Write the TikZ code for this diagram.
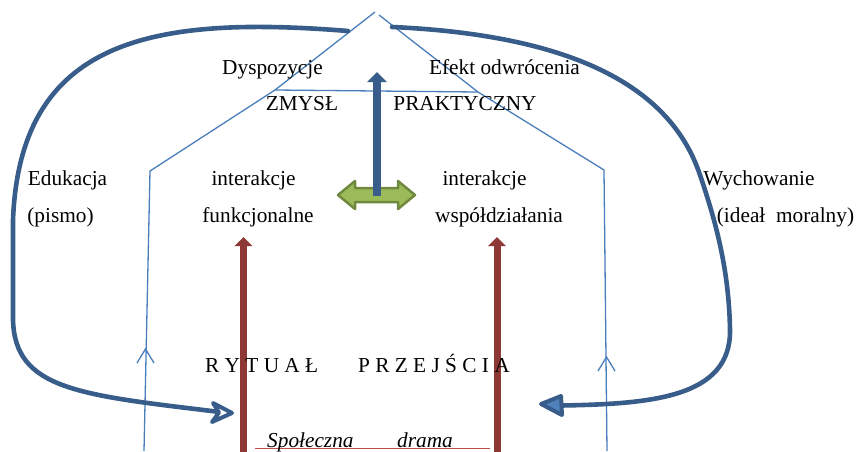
\documentclass[tikz,border=0pt]{standalone}
\usepackage{fontspec}
\setmainfont{Liberation Serif}
\usetikzlibrary{arrows.meta}
\definecolor{thickblue}{RGB}{56,93,138}
\definecolor{thinblue}{RGB}{74,126,187}
\definecolor{arrowfill}{RGB}{79,129,189}
\definecolor{darkred}{RGB}{142,56,54}
\definecolor{lightred}{RGB}{192,80,77}
\definecolor{greenfill}{RGB}{155,187,89}
\definecolor{greenedge}{RGB}{113,137,63}
\tikzset{
  lbl/.style={anchor=base, inner sep=0pt, font=\fontsize{21.3}{25}\selectfont},
  lblw/.style={anchor=base west, inner sep=0pt, font=\fontsize{21.3}{25}\selectfont},
  roof/.style={draw=thinblue, line width=1.3pt, line join=miter},
  bigcurve/.style={draw=thickblue, line width=4.6pt, line cap=round},
  bighead/.style={draw=thickblue, line width=4pt, line join=round},
  redarrow/.style={draw=darkred, line width=7pt, -{Triangle[length=9pt,width=17pt]}},
}
\begin{document}
\begin{tikzpicture}[x=1pt,y=-1pt]
\useasboundingbox (0,0) rectangle (857,451);
% coordinates
\coordinate (apexL) at (375,12);
\coordinate (apexR) at (379,15);
\coordinate (kneeL) at (275,90);
\coordinate (kneeR) at (478,92);
\coordinate (eaveL) at (150,171);
\coordinate (eaveR) at (604,170);
\coordinate (footL) at (144,451);
\coordinate (footR) at (607,451);
% roof and walls
\draw[roof] (apexL) -- (kneeL) -- (eaveL) -- (footL);
\draw[roof] (apexR) -- (kneeR) -- (eaveR) -- (footR);
\draw[roof] (kneeL) -- (kneeR);
% small open arrow marks on the walls
\coordinate (mL) at (145.5,349);
\coordinate (mR) at (606.5,357);
\draw[roof, line join=miter] ([shift={(-8.5,14)}]mL) -- (mL) -- ([shift={(8.5,14)}]mL);
\draw[roof, line join=miter] ([shift={(-8.5,14)}]mR) -- (mR) -- ([shift={(8.5,14)}]mR);
% big curved arrows
\coordinate (cL0) at (348,31);
\coordinate (cL1) at (13,220);
\coordinate (cL2) at (13,320);
\coordinate (endL) at (220,412);
\coordinate (tipL) at (232,413);
\draw[bigcurve]
  (cL0) .. controls (150,15) and (20,40) .. (cL1) -- (cL2)
  .. controls (15,390) and (80,395) .. (endL);
\draw[bighead, fill=white] (tipL) -- (213,403) -- (219,412.5) -- (212,422) -- cycle;
\coordinate (cR0) at (392,27);
\coordinate (cR1) at (700,175);
\coordinate (cR2) at (730,330);
\coordinate (endR) at (561,405.5);
\coordinate (tipR) at (541,404);
\draw[bigcurve]
  (cR0) .. controls (570,35) and (670,85) .. (cR1)
  .. controls (716,222) and (729,270) .. (cR2)
  .. controls (731,398) and (650,404) .. (endR);
\draw[bighead, fill=arrowfill] (tipR) -- (561,396) -- (562,415) -- cycle;
% red arrows
\coordinate (rL0) at (243.5,452);
\coordinate (rL1) at (243.5,237);
\coordinate (rR0) at (497,452);
\coordinate (rR1) at (497,237);
\draw[redarrow] (rL0) -- (rL1);
\draw[redarrow] (rR0) -- (rR1);
% red base line
\coordinate (bl0) at (255,448.5);
\coordinate (bl1) at (490,448.5);
\draw[draw=lightred, line width=1.5pt] (bl0) -- (bl1);
% green double arrow
\path[fill=greenfill, draw=greenedge, line width=2.5pt, line join=round]
  (338,195) -- (355,181) -- (355,188) -- (398,188) -- (398,181) -- (415,195)
  -- (398,209) -- (398,202) -- (355,202) -- (355,209) -- cycle;
% blue central arrow
\coordinate (bA0) at (377,196);
\coordinate (bA1) at (377,72);
\draw[draw=thickblue, line width=8pt, -{Triangle[length=10pt,width=19pt]}] (bA0) -- (bA1);
% texts
\node[lbl] (dys) at (272.5,74) {Dyspozycje};
\node[lbl] (efe) at (504.5,74) {Efekt odwrócenia};
\node[lbl] (zmy) at (302,110) {ZMYSŁ};
\node[lbl] (pra) at (465,110) {PRAKTYCZNY};
\node[lbl] (edu) at (67.5,185) {Edukacja};
\node[lbl] (pis) at (60.5,222) {(pismo)};
\node[lbl] (int1) at (253.5,185) {interakcje};
\node[lbl] (fun) at (258,222) {funkcjonalne};
\node[lbl] (int2) at (484.5,185) {interakcje};
\node[lbl] (wsp) at (499,222) {współdziałania};
\node[lbl] (wyc) at (759,185) {Wychowanie};
\node[lbl] (ide) at (785.5,222) {(ideał\ \ moralny)};
\node[lblw] (ryt) at (205,372) {R Y T U A Ł};
\node[lblw] (prz) at (358,372) {P R Z E J Ś C I A};
\node[lblw] (spo) at (267,447) {\itshape Społeczna};
\node[lblw] (dra) at (397,447) {\itshape drama};
\end{tikzpicture}
\end{document}
